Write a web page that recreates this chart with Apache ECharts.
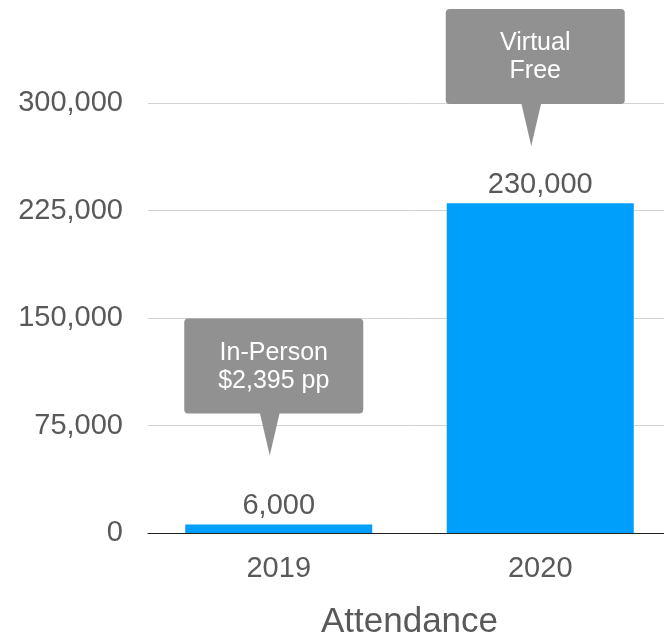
<!DOCTYPE html>
<html>
<head>
<meta charset="utf-8">
<script src="https://cdn.jsdelivr.net/npm/echarts@6/dist/echarts.min.js"></script>
<style>
  html, body { margin: 0; padding: 0; background: #fff; overflow: hidden; }
  /* plot runs slightly past the right edge of the page */
  #chart { width: 671px; height: 638px; }
</style>
</head>
<body>
<div id="chart"></div>
<script>
// Attendance by year
const years = ['2019', '2020'];
const attendance = [6000, 230000];
const yTicks = [0, 75000, 150000, 225000, 300000];

// Callout notes: text lines and the value their pointer tip reaches
const noteLines = [['In-Person', '$2,395 pp'], ['Virtual', 'Free']];
const noteTipValues = [54000, 270000];

const FONT = '"Liberation Sans", Arial, Helvetica, sans-serif';
const TEXT_GRAY = '#595959';

const chart = echarts.init(document.getElementById('chart'), null, { renderer: 'canvas' });

const fmt = v => v.toLocaleString('en-US');

chart.setOption({
  animation: false,
  backgroundColor: '#ffffff',
  grid: { left: 148, right: 0, top: 103, bottom: 105, containLabel: false, outerBoundsMode: 'none' },
  xAxis: {
    type: 'category',
    data: years,
    name: 'Attendance',
    nameLocation: 'middle',
    nameGap: 72,
    nameTextStyle: { fontFamily: FONT, fontSize: 35, color: TEXT_GRAY },
    axisLine: { show: true, lineStyle: { color: '#222', width: 1.2 } },
    axisTick: { show: false },
    axisLabel: { fontFamily: FONT, fontSize: 29, color: TEXT_GRAY, margin: 21 }
  },
  yAxis: {
    type: 'value',
    min: yTicks[0],
    max: yTicks[yTicks.length - 1],
    interval: yTicks[1] - yTicks[0],
    axisLine: { show: false },
    axisTick: { show: false },
    splitLine: { lineStyle: { color: '#d2d2d2', width: 1 } },
    axisLabel: {
      fontFamily: FONT, fontSize: 29, color: TEXT_GRAY, margin: 25,
      formatter: v => fmt(v)
    }
  },
  series: [
    {
      type: 'bar',
      data: attendance,
      barWidth: 187,
      itemStyle: { color: '#009ffc' },
      label: {
        show: true,
        position: 'top',
        distance: 4,
        fontFamily: FONT,
        fontSize: 29,
        color: TEXT_GRAY,
        formatter: p => fmt(p.value)
      },
      z: 2
    },
    {
      type: 'custom',
      clip: false,
      data: noteTipValues.map((v, i) => [i, v]),
      z: 5,
      renderItem: (params, api) => {
        const i = params.dataIndex;
        const tip = api.coord([api.value(0), api.value(1)]);
        const tipX = tip[0] - 9;
        const tipY = tip[1];
        const boxW = 179, boxH = 95, ptrH = 42, ptrHalf = 10;
        const boxX = tipX + 4 - boxW / 2;
        const boxBottom = tipY - ptrH;
        const boxY = boxBottom - boxH;
        const fill = '#919191';
        return {
          type: 'group',
          children: [
            {
              type: 'rect',
              shape: { x: boxX, y: boxY, width: boxW, height: boxH, r: 4 },
              style: { fill: fill }
            },
            {
              type: 'polygon',
              shape: { points: [[tipX - ptrHalf, boxBottom - 1], [tipX + ptrHalf, boxBottom - 1], [tipX, tipY]] },
              style: { fill: fill }
            },
            {
              type: 'text',
              x: boxX + boxW / 2,
              y: boxY + boxH / 2 + 1,
              style: {
                text: noteLines[i].join('\n'),
                fill: '#ffffff',
                font: '25px ' + FONT,
                align: 'center',
                verticalAlign: 'middle',
                lineHeight: 28
              }
            }
          ]
        };
      }
    }
  ]
});
</script>
</body>
</html>
